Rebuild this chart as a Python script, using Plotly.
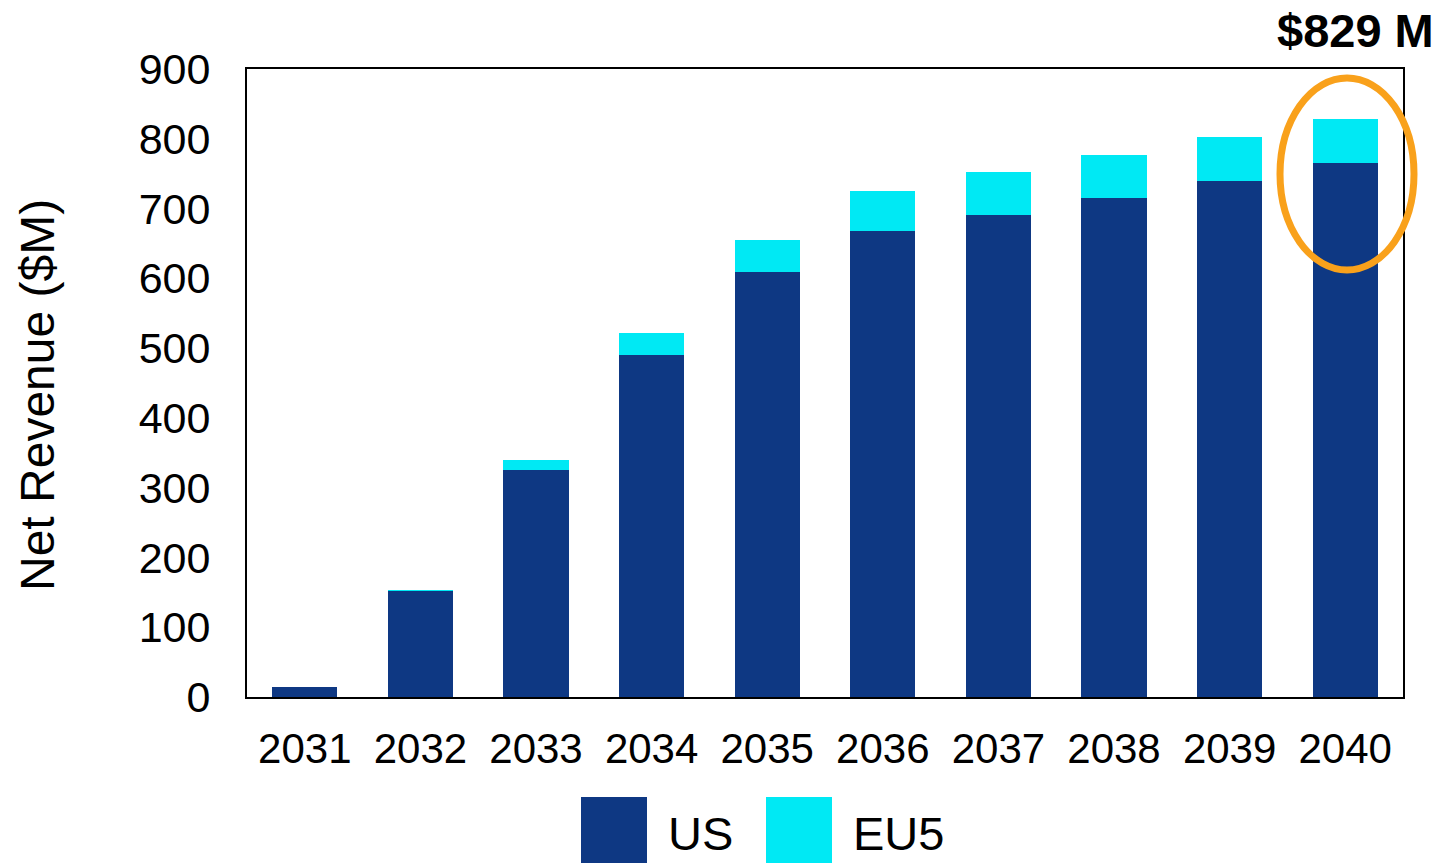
import plotly.graph_objects as go

years = ["2031", "2032", "2033", "2034", "2035", "2036", "2037", "2038", "2039", "2040"]
us = [14, 152, 325, 490, 609, 668, 691, 715, 739, 765]
eu5 = [0, 1, 15, 32, 46, 57, 61, 62, 64, 64]
y_ticks = [0, 100, 200, 300, 400, 500, 600, 700, 800, 900]
total_label = "$829 M"

NAVY = "#0E3883"
CYAN = "#00E9F4"
FONT = "Liberation Sans, Arial, sans-serif"

W, H = 1440, 863
L, T = 247, 69
PW, PH = 1156, 628

fig = go.Figure()
fig.add_trace(go.Bar(x=years, y=us, name="US", marker=dict(color=NAVY, line=dict(width=0))))
fig.add_trace(go.Bar(x=years, y=eu5, name="EU5", marker=dict(color=CYAN, line=dict(width=0))))

fig.update_layout(
    width=W, height=H,
    barmode="stack", bargap=0.437,
    showlegend=False,
    plot_bgcolor="white", paper_bgcolor="white",
    margin=dict(l=L, r=W - L - PW, t=T, b=H - T - PH),
    font=dict(family=FONT, color="black"),
)
fig.update_xaxes(
    type="category", range=[-0.5, len(years) - 0.5],
    showline=True, linecolor="black", linewidth=2, mirror=True,
    showgrid=False, ticks="", tickfont=dict(size=42, family=FONT), ticklabelstandoff=14,
)
fig.update_yaxes(
    range=[0, 900], tickvals=y_ticks, ticktext=[str(v) for v in y_ticks],
    showline=True, linecolor="black", linewidth=2, mirror=True,
    showgrid=False, ticks="", tickfont=dict(size=43, family=FONT), ticklabelstandoff=26,
)

def px_x(p):
    return (p - L) / PW

def px_y(p):
    return (T + PH - p) / PH

# y-axis title (as annotation to match its offset)
fig.add_annotation(text="Net Revenue ($M)", xref="paper", yref="paper",
                   x=px_x(37), y=px_y(395), textangle=-90,
                   xanchor="center", yanchor="middle", showarrow=False,
                   font=dict(size=48, family=FONT, color="black"))

# highlight ellipse around last bar (paper coords so it may extend past the frame)
fig.add_shape(type="circle", xref="paper", yref="paper",
              x0=px_x(1280), x1=px_x(1414), y0=px_y(270), y1=px_y(78),
              line=dict(color="#F9A11B", width=7))

fig.add_annotation(text="<b>" + total_label + "</b>", xref="paper", yref="paper",
                   x=px_x(1436), y=px_y(30), xanchor="right", yanchor="middle", showarrow=False,
                   font=dict(size=47, family=FONT, color="black"))

# manual legend
legend_items = [("US", NAVY, 581), ("EU5", CYAN, 766)]
for name, color, px in legend_items:
    fig.add_shape(type="rect", xref="paper", yref="paper",
                  x0=px_x(px), x1=px_x(px + 66),
                  y0=px_y(870), y1=px_y(797),
                  fillcolor=color, line=dict(width=0))
    fig.add_annotation(text=name, xref="paper", yref="paper",
                       x=px_x(px + 85), y=px_y(833),
                       xanchor="left", yanchor="middle", showarrow=False,
                       font=dict(size=47, family=FONT, color="black"))

fig.write_html(
    "out.html",
    config={"displayModeBar": False},
    post_script="document.body.style.margin='0';document.body.style.overflow='hidden';"
                "document.documentElement.style.overflow='hidden';",
)
